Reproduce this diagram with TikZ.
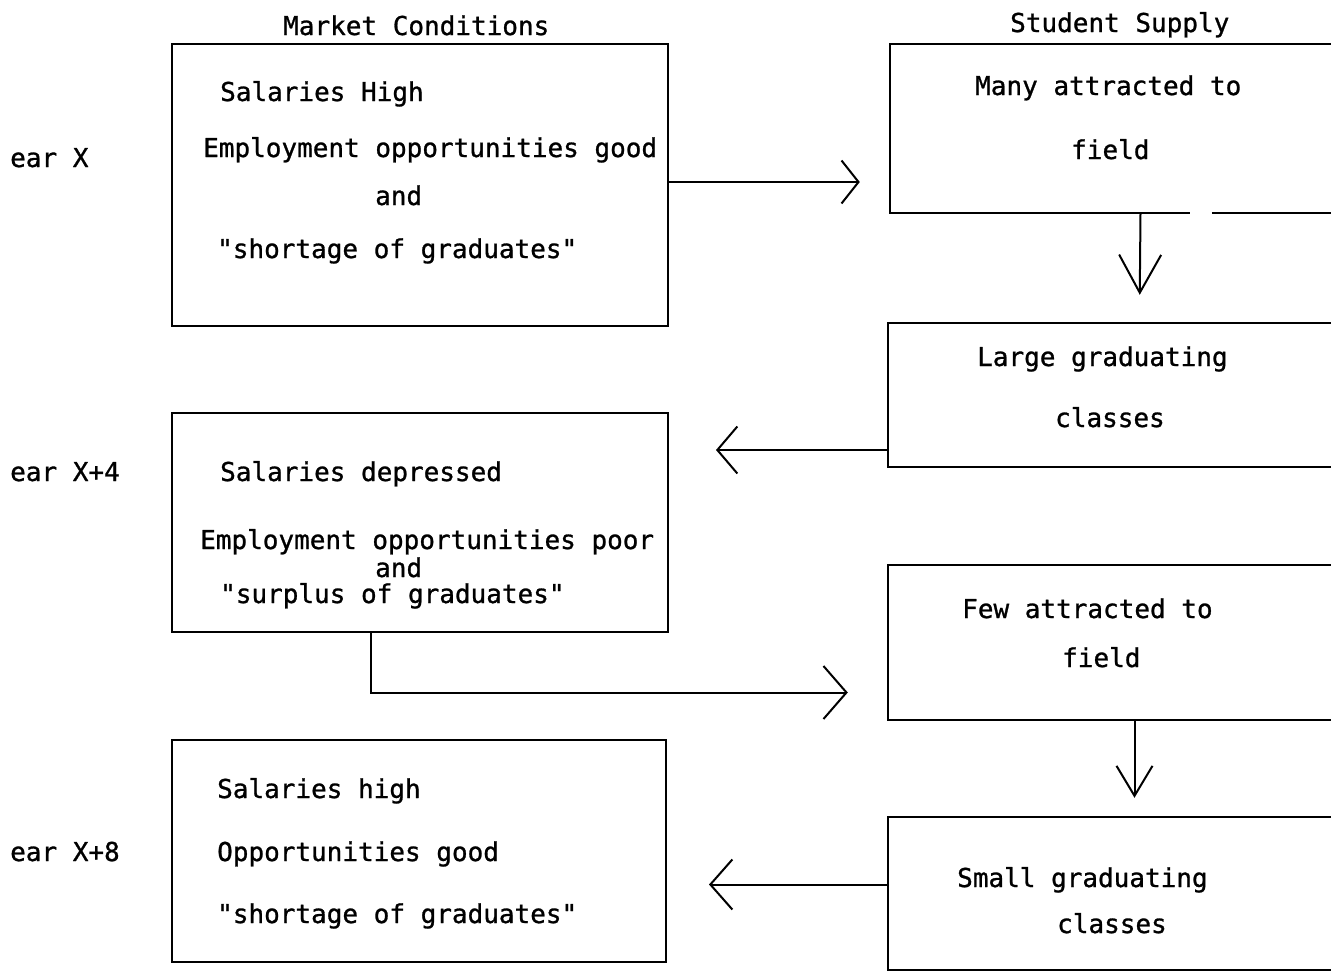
\documentclass[tikz,border=0pt]{standalone}
\usepackage{fontspec}
\setmonofont[FakeBold=1]{DejaVu Sans Mono}
\usetikzlibrary{arrows.meta,calc}
\begin{document}
\begin{tikzpicture}[x=1pt,y=-1pt,
  txt/.style={font=\ttfamily\fontsize{26}{30}\selectfont, inner sep=0pt, anchor=base west},
  lbox/.style={draw, line width=2pt, rectangle, inner sep=0pt},
  rbox/.style={rectangle, inner sep=0pt},
  edgeline/.style={line width=2pt},
  arr/.style 2 args={line width=2pt, -{Straight Barb[length=#1,width=#2,line width=2pt]}}
]
\useasboundingbox (0,0) rectangle (1331,977);

% titles
\node[txt] (t1) at (283,35) {Market Conditions};
\node[txt] (t2) at (1010,32) {Student Supply};

% year labels
\node[txt] (y1) at (10,167) {ear X};
\node[txt] (y2) at (10,481) {ear X+4};
\node[txt] (y3) at (10,861) {ear X+8};

% left boxes
\node[lbox, minimum width=496pt, minimum height=282pt] (L1) at (420,185) {};
\node[lbox, minimum width=496pt, minimum height=219pt] (L2) at (420,522.5) {};
\node[lbox, minimum width=494pt, minimum height=222pt] (L3) at (419,851) {};

% right boxes (open on the right)
\node[rbox, minimum width=441pt, minimum height=169pt] (R1) at (1110.5,128.5) {};
\node[rbox, minimum width=443pt, minimum height=144pt] (R2) at (1109.5,395) {};
\node[rbox, minimum width=443pt, minimum height=155pt] (R3) at (1109.5,642.5) {};
\node[rbox, minimum width=443pt, minimum height=153pt] (R4) at (1109.5,893.5) {};

\draw[edgeline] (R1.north east) -- (R1.north west) -- (R1.south west) -- ($(R1.south west)+(300,0)$);
\draw[edgeline] ($(R1.south west)+(322,0)$) -- (R1.south east);
\draw[edgeline] (R2.north east) -- (R2.north west) -- (R2.south west) -- (R2.south east);
\draw[edgeline] (R3.north east) -- (R3.north west) -- (R3.south west) -- (R3.south east);
\draw[edgeline] (R4.north east) -- (R4.north west) -- (R4.south west) -- (R4.south east);

% texts in left boxes
\node[txt] (a1) at (220,101) {Salaries High};
\node[txt] (a2) at (203,157) {Employment opportunities good};
\node[txt] (a3) at (375,205) {and};
\node[txt] (a4) at (217,258) {"shortage of graduates"};

\node[txt] (b1) at (220,481) {Salaries depressed};
\node[txt] (b2) at (200,549) {Employment opportunities poor};
\node[txt] (b3) at (375,577) {and};
\node[txt] (b4) at (220,603) {"surplus of graduates"};

\node[txt] (c1) at (217,798) {Salaries high};
\node[txt] (c2) at (217,861) {Opportunities good};
\node[txt] (c3) at (217,923) {"shortage of graduates"};

% texts in right boxes
\node[txt] (d1) at (975,95) {Many attracted to};
\node[txt] (d2) at (1071,159) {field};
\node[txt] (e1) at (977,366) {Large graduating};
\node[txt] (e2) at (1055,427) {classes};
\node[txt] (f1) at (962,618) {Few attracted to};
\node[txt] (f2) at (1062,667) {field};
\node[txt] (g1) at (957,887) {Small graduating};
\node[txt] (g2) at (1057,933) {classes};

% connectors
\draw[arr={17pt}{43pt}, shorten >=30pt] ($(L1.east)+(0,-3)$) -- ($(R1.west |- L1.east)+(0,-3)$);
\draw[arr={38pt}{42pt}, shorten >=28pt] ($(R1.south)+(30,0)$) -- ($(R2.north)+(30,0)$);
\draw[arr={20pt}{47pt}, shorten >=47pt] ($(R2.west)+(0,55)$) -- ($(L2.east |- R2.west)+(0,55)$);
\draw[arr={23pt}{53pt}, shorten >=40pt] ($(L2.south)+(-49,0)$) |- ($(R3.west)+(0,50)$);
\draw[arr={30pt}{36pt}, shorten >=19pt] ($(R3.south)+(25,0)$) -- ($(R4.north)+(25,0)$);
\draw[arr={22pt}{50pt}, shorten >=42pt] ($(R4.west)+(0,-9)$) -- ($(L3.east |- R4.west)+(0,-9)$);
\end{tikzpicture}
\end{document}
